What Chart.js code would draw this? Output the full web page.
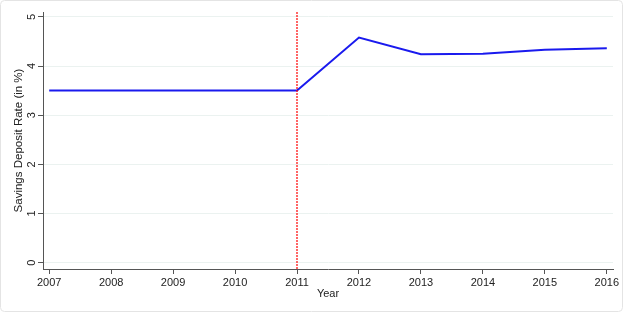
<!DOCTYPE html>
<html>
<head>
<meta charset="utf-8">
<script src="https://cdn.jsdelivr.net/npm/chart.js@4.4.1/dist/chart.umd.min.js"></script>
<style>
  html, body { margin: 0; padding: 0; background: #fff; }
  #wrap { width: 624px; height: 312px; position: relative; }
</style>
</head>
<body>
<div id="wrap"><canvas id="chart" width="624" height="312"></canvas></div>
<script>
// data
const years = [2007, 2008, 2009, 2010, 2011, 2012, 2013, 2014, 2015, 2016];
const savingsRate = [3.5, 3.5, 3.5, 3.5, 3.5, 4.58, 4.24, 4.25, 4.33, 4.36];
const yTicks = [0, 1, 2, 3, 4, 5];
const breakYear = 2011;

const FONT = 'Liberation Sans, Arial, sans-serif';

// red dashed line at the break year + rotated y labels + faint frame
const extras = {
  id: 'extras',
  afterDraw(chart) {
    const ctx = chart.ctx;
    const y = chart.scales.y;
    const area = chart.chartArea;

    ctx.save();
    // vertical break line (spans two pixel columns, like the original)
    const px = Math.round(chart.scales.x.getPixelForValue(breakYear));
    ctx.strokeStyle = '#ff0000';
    ctx.lineWidth = 1.2;
    ctx.setLineDash([2, 1]);
    ctx.beginPath();
    ctx.moveTo(px, area.top);
    ctx.lineTo(px, area.bottom);
    ctx.stroke();
    ctx.setLineDash([]);

    // rotated y tick labels (Stata style)
    ctx.fillStyle = '#222';
    ctx.font = '11px ' + FONT;
    ctx.textAlign = 'center';
    ctx.textBaseline = 'middle';
    yTicks.forEach(v => {
      const py = y.getPixelForValue(v);
      ctx.save();
      ctx.translate(32, py);
      ctx.rotate(-Math.PI / 2);
      ctx.fillText(String(v), 0, 0);
      ctx.restore();
    });

    // faint outer frame
    ctx.strokeStyle = '#e4e4e4';
    ctx.lineWidth = 1;
    ctx.beginPath();
    ctx.roundRect(0.5, 0.5, chart.width - 2, chart.height - 1, 4);
    ctx.stroke();
    ctx.restore();
  }
};

new Chart(document.getElementById('chart'), {
  type: 'line',
  data: {
    datasets: [{
      data: years.map((yr, i) => ({ x: yr, y: savingsRate[i] })),
      borderColor: '#1a1aee',
      borderWidth: 2,
      pointRadius: 0,
      tension: 0,
      fill: false
    }]
  },
  options: {
    responsive: false,
    animation: false,
    events: [],
    layout: { padding: { top: 12, right: 11, left: 0, bottom: 0 } },
    plugins: { legend: { display: false }, tooltip: { enabled: false } },
    scales: {
      x: {
        type: 'linear',
        min: 2006.9,
        max: 2016.1,
        afterFit: s => { s.height = 43; },
        afterBuildTicks: s => { s.ticks = years.map(v => ({ value: v })); },
        grid: { drawOnChartArea: false, tickLength: 5, tickColor: '#555', lineWidth: 1 },
        border: { color: '#555', width: 1 },
        ticks: {
          color: '#222',
          font: { family: FONT, size: 11 },
          padding: 2,
          maxRotation: 0,
          autoSkip: false,
          callback: v => String(v)
        },
        title: {
          display: true,
          text: 'Year',
          color: '#222',
          font: { family: FONT, size: 11 },
          padding: { top: 0, bottom: 11 }
        }
      },
      y: {
        min: -0.13,
        max: 5.1,
        afterFit: s => { s.width = 43; },
        afterBuildTicks: s => { s.ticks = yTicks.map(v => ({ value: v })); },
        grid: { color: '#ebf2f0', tickColor: '#555', tickLength: 5, lineWidth: 1 },
        border: { color: '#555', width: 1 },
        ticks: { color: 'rgba(0,0,0,0)', font: { family: FONT, size: 11 }, padding: 2 },
        title: {
          display: true,
          text: 'Savings Deposit Rate (in %)',
          color: '#222',
          font: { family: FONT, size: 11.5 },
          padding: { top: 12, bottom: 0 }
        }
      }
    }
  },
  plugins: [extras]
});
</script>
</body>
</html>
